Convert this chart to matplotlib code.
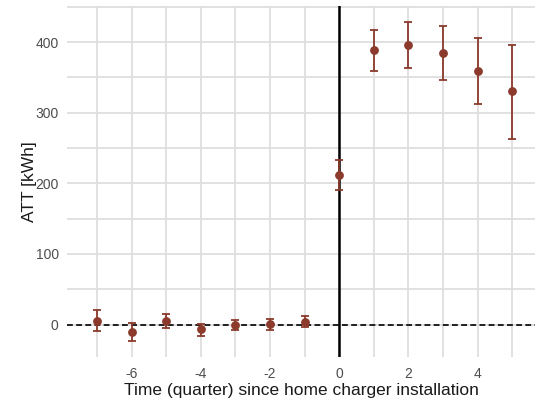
import numpy as np
import matplotlib
matplotlib.use("Agg")
import matplotlib.pyplot as plt

# event-study estimates: quarter relative to installation, ATT and 95% CI
quarter = [-7, -6, -5, -4, -3, -2, -1, 0, 1, 2, 3, 4, 5]
att = [5, -10, 5, -7, 0, 1, 4, 212, 388, 396, 385, 359, 330]
ci_low = [-9, -23, -5, -16, -8, -8, -4, 190, 359, 363, 346, 312, 263]
ci_high = [20, 2, 15, 1, 6, 8, 12, 233, 417, 428, 423, 406, 396]

y_ticks = [0, 100, 200, 300, 400]
x_ticks = [-6, -4, -2, 0, 2, 4]

plt.rcParams['font.family'] = ['Liberation Sans', 'DejaVu Sans']
plt.rcParams['axes.unicode_minus'] = False

fig = plt.figure(figsize=(5.35, 4.04), dpi=100)
ax = fig.add_axes([67 / 535, 47 / 404, 1 - 67 / 535, 351 / 404])

pt_col = '#8b3a2c'
grid_col = '#dedede'

# grid: major + minor in both directions, drawn by hand so all look alike
for gx in np.arange(-7, 6):
    ax.axvline(gx, color=grid_col, lw=1.3, zorder=0)
for gy in np.arange(0, 451, 50):
    ax.axhline(gy, color=grid_col, lw=1.3, zorder=0)

ax.axhline(0, color='black', lw=1.2, dashes=(3.5, 2), zorder=2)
ax.axvline(0, color='black', lw=1.8, zorder=2)

att_a = np.array(att)
yerr = [att_a - np.array(ci_low), np.array(ci_high) - att_a]
ax.errorbar(quarter, att, yerr=yerr, fmt='o', color=pt_col, ms=5.3,
            elinewidth=1.3, capsize=3.2, capthick=1.3, zorder=3)

ax.set_xlim(-7.87, 5.66)
ax.set_ylim(-46, 451)
ax.set_xticks(x_ticks)
ax.set_yticks(y_ticks)
ax.tick_params(axis='y', length=0, pad=6, labelsize=10, labelcolor='#4d4d4d')
ax.tick_params(axis='x', length=0, pad=7.5, labelsize=10, labelcolor='#4d4d4d')
for s in ax.spines.values():
    s.set_visible(False)

ax.set_xlabel('Time (quarter) since home charger installation', fontsize=12.5,
              color='#1a1a1a', labelpad=1.5)
ax.set_ylabel('ATT [kWh]', fontsize=12.5, color='#1a1a1a', labelpad=-1)

fig.savefig('out.png', dpi=100)
